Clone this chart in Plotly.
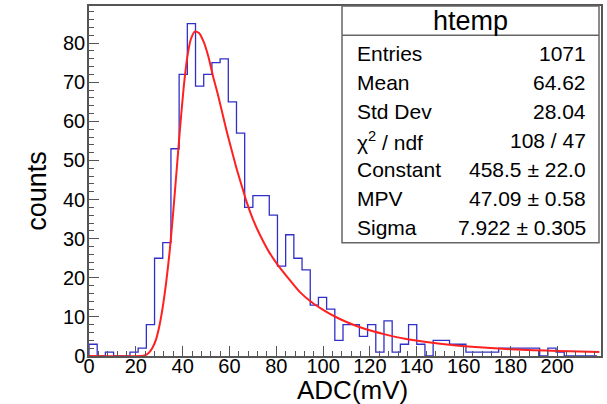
import plotly.graph_objects as go

# ---------------- data ----------------
bin_width = 3.5
counts = [3, 0, 1, 0, 0, 1, 2, 8, 25, 29, 53, 72, 85, 69, 72, 75, 76, 65, 57, 38,
          41, 41, 36, 23, 31, 25, 22, 13, 15, 12, 4, 8, 8, 5, 8, 1, 9, 1, 3, 8,
          3, 0, 4, 4, 3, 3, 1, 1, 1, 1, 2, 2, 2, 2, 2, 0, 2, 1, 0, 0, 0, 0]

fit_x = [0, 22, 24, 25.5, 27, 28.5, 30, 31.5, 33, 34.5, 36, 37.5, 39, 40.5, 42, 43.5,
         45.3, 47, 49, 51, 53, 55, 57, 59, 61, 63, 65, 67, 70, 73, 77, 81, 85, 90,
         95, 100, 105, 110, 118, 126, 135, 145, 155, 165, 175, 185, 195, 205, 218]
fit_y = [0, 0, 0.2, 0.8, 2, 4, 7.5, 12.5, 19, 27, 37, 48, 59, 69, 76.5, 81,
         83, 82.6, 80.3, 76.5, 71.5, 67, 62, 57, 52.5, 48, 44, 40, 35, 31, 26.5, 23, 20, 16.4,
         13.8, 11.8, 10.1, 8.7, 6.9, 5.6, 4.4, 3.5, 2.8, 2.3, 1.9, 1.6, 1.4, 1.2, 1.0]

x_ticks = [0, 20, 40, 60, 80, 100, 120, 140, 160, 180, 200]
y_ticks = [0, 10, 20, 30, 40, 50, 60, 70, 80]

stats_title = "htemp"
stats_labels = ["Entries", "Mean", "Std Dev", "χ<sup>2</sup> / ndf", "Constant", "MPV", "Sigma"]
stats_values = ["1071", "64.62", "28.04", "108 / 47", "458.5 ± 22.0", "47.09 ± 0.58", "7.922 ± 0.305"]

x_title = "ADC(mV)"
y_title = "counts"

# ---------------- layout geometry ----------------
W, H = 607, 404
ML, MR, MT, MB = 89, 4, 5, 48
PW, PH = W - ML - MR, H - MT - MB
x_max = 218.7
y_max = 89.5

def px_to_paper_x(px):
    return (px - ML) / PW

def py_to_paper_y(py):
    return (H - MB - py) / PH

FONT = "Liberation Sans, Arial, Helvetica, sans-serif"

# histogram outline as steps
edges = [i * bin_width for i in range(len(counts) + 1)]
hx = [0] + edges
hy = [0] + counts + [counts[-1]]

fig = go.Figure()
fig.add_trace(go.Scatter(x=hx, y=hy, mode="lines", line=dict(color="#3030c8", width=1.3, shape="hv"),
                         hoverinfo="skip", showlegend=False))
fig.add_trace(go.Scatter(x=fit_x, y=fit_y, mode="lines",
                         line=dict(color="#ff2020", width=2, shape="spline", smoothing=0.6),
                         hoverinfo="skip", showlegend=False))

axis_common = dict(showgrid=False, zeroline=False, showline=True, linecolor="#555555", linewidth=1.5,
                   mirror=True, ticks="inside", tickcolor="#555555", tickwidth=1.2,
                   tickfont=dict(family=FONT, size=20, color="black"))

fig.update_xaxes(range=[0, x_max], tickvals=x_ticks, ticklen=10, ticklabelstandoff=-9,
                 minor=dict(ticks="inside", dtick=4, ticklen=5, tickcolor="#555555", tickwidth=1),
                 **axis_common)
fig.update_yaxes(range=[0, y_max], tickvals=y_ticks, ticklen=10, ticklabelstandoff=-2,
                 minor=dict(ticks="inside", dtick=2, ticklen=5, tickcolor="#555555", tickwidth=1),
                 **axis_common)

shapes = []
# stats box
bx0, bx1, by0, by1, bsep = 343, 601, 242.5, 5, 34.3
shapes.append(dict(type="rect", xref="paper", yref="paper",
                   x0=px_to_paper_x(bx0), x1=px_to_paper_x(bx1),
                   y0=py_to_paper_y(by0), y1=py_to_paper_y(by1),
                   line=dict(color="#666666", width=1.5), fillcolor="white", layer="above"))
shapes.append(dict(type="line", xref="paper", yref="paper",
                   x0=px_to_paper_x(bx0), x1=px_to_paper_x(bx1),
                   y0=py_to_paper_y(bsep), y1=py_to_paper_y(bsep),
                   line=dict(color="#666666", width=1.5), layer="above"))

ann = []
ann.append(dict(text=stats_title, xref="paper", yref="paper",
                x=px_to_paper_x((bx0 + bx1) / 2), y=py_to_paper_y(20),
                xanchor="center", yanchor="middle", showarrow=False,
                font=dict(family=FONT, size=27, color="black")))
row_y0, row_dy = 53, 29.1
for i, (lab, val) in enumerate(zip(stats_labels, stats_values)):
    yy = py_to_paper_y(row_y0 + i * row_dy)
    ann.append(dict(text=lab, xref="paper", yref="paper", x=px_to_paper_x(356), y=yy,
                    xanchor="left", yanchor="middle", showarrow=False,
                    font=dict(family=FONT, size=21, color="black")))
    ann.append(dict(text=val, xref="paper", yref="paper", x=px_to_paper_x(590), y=yy,
                    xanchor="right", yanchor="middle", showarrow=False,
                    font=dict(family=FONT, size=21, color="black")))

ann.append(dict(text=x_title, xref="paper", yref="paper", x=px_to_paper_x(354), y=py_to_paper_y(390),
                xanchor="center", yanchor="middle", showarrow=False,
                font=dict(family=FONT, size=26, color="black")))
ann.append(dict(text=y_title, xref="paper", yref="paper", x=px_to_paper_x(37), y=py_to_paper_y(190),
                xanchor="center", yanchor="middle", showarrow=False, textangle=-90,
                font=dict(family=FONT, size=27, color="black")))

fig.update_layout(width=W, height=H, margin=dict(l=ML, r=MR, t=MT, b=MB),
                  plot_bgcolor="white", paper_bgcolor="white",
                  shapes=shapes, annotations=ann, showlegend=False)

fig.write_html("out.html")
